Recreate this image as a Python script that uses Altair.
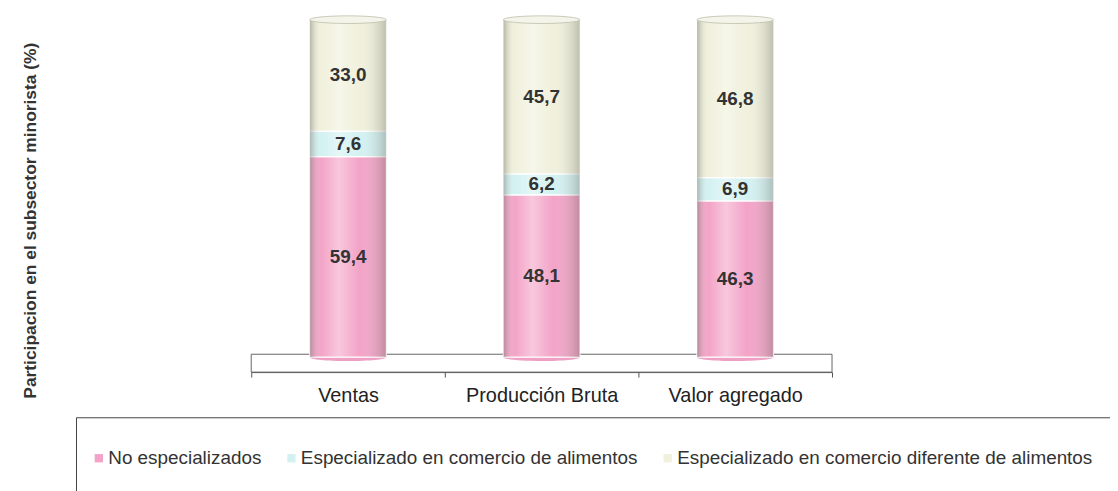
import altair as alt
import pandas as pd

categories = ["Ventas", "Producción Bruta", "Valor agregado"]
series = ["No especializados",
          "Especializado en comercio de alimentos",
          "Especializado en comercio diferente de alimentos"]
no_especializados = [59.4, 48.1, 46.3]
esp_alimentos = [7.6, 6.2, 6.9]
esp_diferente = [33.0, 45.7, 46.8]
colors = ["#F3A3C7", "#D3F1F1", "#F0F0DC"]

rows = []
for i, c in enumerate(categories):
    for j, vals in enumerate([no_especializados, esp_alimentos, esp_diferente]):
        rows.append({"cat": c, "serie": series[j], "orden": j, "valor": vals[i]})
df = pd.DataFrame(rows)

W, H = 585, 340
FONT = "Liberation Sans"
BAR_W = 77

base = alt.Chart(df).transform_stack(
    stack="valor", groupby=["cat"], as_=["y0", "y1"],
    sort=[alt.SortField("orden", order="ascending")]
).transform_calculate(
    mid="(datum.y0 + datum.y1) / 2",
    etiqueta="replace(format(datum.valor, '.1f'), '.', ',')"
)

x_enc = alt.X("cat:N", sort=categories,
              scale=alt.Scale(paddingInner=0, paddingOuter=0),
              axis=alt.Axis(title=None, tickBand="extent", offset=15, labelAngle=0,
                            labelAlign="center", labelBaseline="top",
                            labelFontSize=20, labelColor="#222", labelFont=FONT,
                            domainColor="#555", tickColor="#555", tickSize=5,
                            labelPadding=9))
y_scale = alt.Scale(domain=[0, 100], nice=False, zero=True)

floor = alt.Chart(pd.DataFrame({"k": [0]})).mark_rect(
    fill="white", stroke="#666", strokeWidth=1
).encode(x=alt.value(0), x2=alt.value(W), y=alt.value(337), y2=alt.value(355))

legend_box = alt.Chart(pd.DataFrame({"k": [0]})).mark_rect(
    fill="white", stroke="#444", strokeWidth=1
).encode(x=alt.value(-176), x2=alt.value(950), y=alt.value(401), y2=alt.value(520))

bars = base.mark_bar(width=BAR_W, stroke="white", strokeWidth=1.2).encode(
    x=x_enc,
    y=alt.Y("y0:Q", scale=y_scale,
            axis=alt.Axis(title="Participacion en el subsector minorista (%)",
                          labels=False, ticks=False, domain=False, grid=False,
                          titleFontSize=17.5, titleFontWeight="bold", titleColor="#333",
                          titleFont=FONT, titleAngle=270, titleAlign="center",
                          titleBaseline="middle", titleX=-222, titleY=202)),
    y2="y1:Q",
    color=alt.Color("serie:N", scale=alt.Scale(domain=series, range=colors),
                    legend=alt.Legend(title=None)),
    order=alt.Order("orden:Q"),
)

shade = {"gradient": "linear", "x1": 0, "y1": 0, "x2": 1, "y2": 0, "stops": [
    {"offset": 0, "color": "rgba(90,90,80,0.40)"},
    {"offset": 0.15, "color": "rgba(255,255,255,0.0)"},
    {"offset": 0.38, "color": "rgba(255,255,255,0.40)"},
    {"offset": 0.65, "color": "rgba(255,255,255,0.0)"},
    {"offset": 1, "color": "rgba(90,90,80,0.33)"}]}

shading = base.mark_bar(width=BAR_W, fill=shade, strokeWidth=0).encode(
    x=alt.X("cat:N", sort=categories), y="y0:Q", y2="y1:Q")

ellipse_top = "M-1,0A1,0.1,0,1,0,1,0A1,0.1,0,1,0,-1,0Z"
ellipse_bottom = "M-1,0A1,0.1,0,0,0,1,0Z"

totals = alt.Chart(df).transform_aggregate(total="sum(valor)", groupby=["cat"])
top_cap = totals.mark_point(shape=ellipse_top, size=BAR_W * BAR_W, filled=True,
                            fill="#F4F4EA", stroke="#BDBDAA", strokeWidth=0.8,
                            opacity=1).encode(
    x=alt.X("cat:N", sort=categories), y=alt.Y("total:Q"))
bottom_cap = totals.mark_point(shape=ellipse_bottom, size=BAR_W * BAR_W, filled=True,
                               fill="#EFA0C4", strokeWidth=0, opacity=1).encode(
    x=alt.X("cat:N", sort=categories), y=alt.datum(0))

labels = base.mark_text(fontSize=19, fontWeight="bold", color="#333", font=FONT).encode(
    x=alt.X("cat:N", sort=categories), y="mid:Q", text="etiqueta:N")

chart = alt.layer(legend_box, floor, bottom_cap, bars, shading, top_cap, labels).properties(
    width=W, height=H,
    autosize=alt.AutoSizeParams(type="none"),
    padding={"left": 245, "top": 10, "right": 280, "bottom": 133},
).configure_view(stroke=None).configure_legend(
    orient="none", direction="horizontal", legendX=-163, legendY=432,
    symbolType="square", symbolSize=70, symbolStrokeWidth=0,
    labelFontSize=19, labelColor="#333", labelFont=FONT, labelOffset=0,
    labelLimit=0, columnPadding=20, padding=0
)

chart.save("out.html", embed_options={"renderer": "svg", "actions": False})
